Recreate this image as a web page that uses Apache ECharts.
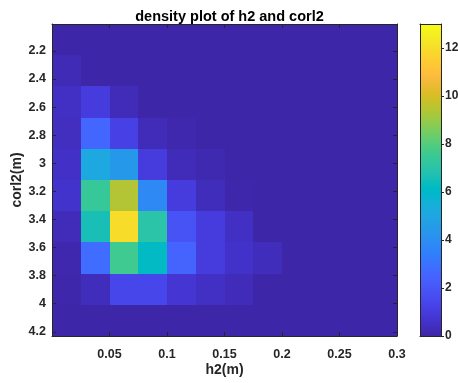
<!DOCTYPE html>
<html>
<head>
<meta charset="utf-8">
<script src="https://cdn.jsdelivr.net/npm/echarts@6/dist/echarts.min.js"></script>
<style>
  html, body { margin: 0; padding: 0; background: #fff; }
  #chart { width: 458px; height: 383px; }
</style>
</head>
<body>
<div id="chart"></div>
<script>
// Bin edges of the 2-D density grid
const h2Edges = [0, 0.025, 0.05, 0.075, 0.1, 0.125, 0.15, 0.175, 0.2, 0.225, 0.25, 0.275, 0.3];
const corl2Edges = [2.008, 2.230, 2.452, 2.675, 2.897, 3.119, 3.341, 3.564, 3.786, 4.008, 4.230];

// Density per cell: one row per corl2 bin (top to bottom), one column per h2 bin
const densityRow0 = [0,    0,    0,    0,    0,    0,    0,    0,    0, 0, 0, 0];
const densityRow1 = [0.25, 0,    0,    0,    0,    0,    0,    0,    0, 0, 0, 0];
const densityRow2 = [0.5,  1.0,  0.3,  0,    0,    0,    0,    0,    0, 0, 0, 0];
const densityRow3 = [0.4,  2.6,  1.2,  0.3,  0.1,  0,    0,    0,    0, 0, 0, 0];
const densityRow4 = [0.55, 5.1,  4.4,  1.0,  0.3,  0.15, 0,    0,    0, 0, 0, 0];
const densityRow5 = [0.65, 7.4,  9.4,  3.8,  1.0,  0.35, 0.05, 0,    0, 0, 0, 0];
const densityRow6 = [0.3,  6.6, 12.0,  7.0,  1.9,  1.0,  0.5,  0,    0, 0, 0, 0];
const densityRow7 = [0.1,  2.8,  7.6,  6.2,  2.5,  1.0,  0.6,  0.35, 0, 0, 0, 0];
const densityRow8 = [0.05, 0.35, 1.4,  1.4,  0.8,  0.5,  0.3,  0,    0, 0, 0, 0];
const densityRow9 = [0,    0,    0,    0,    0,    0,    0,    0,    0, 0, 0, 0];
const densityRows = [densityRow0, densityRow1, densityRow2, densityRow3, densityRow4,
                     densityRow5, densityRow6, densityRow7, densityRow8, densityRow9];

// Tick labels
const h2Ticks = [0.05, 0.1, 0.15, 0.2, 0.25, 0.3];
const corl2Ticks = [2.2, 2.4, 2.6, 2.8, 3, 3.2, 3.4, 3.6, 3.8, 4, 4.2];
const colorLimits = [0, 13];
const colorbarTicks = [0, 2, 4, 6, 8, 10, 12];

// parula colour map
const parula = [
  [0.2422,0.1504,0.6603],[0.2504,0.1650,0.7076],[0.2578,0.1818,0.7511],[0.2647,0.1978,0.7952],
  [0.2706,0.2147,0.8364],[0.2751,0.2342,0.8710],[0.2783,0.2559,0.8991],[0.2803,0.2782,0.9221],
  [0.2813,0.3006,0.9414],[0.2810,0.3228,0.9579],[0.2795,0.3447,0.9717],[0.2760,0.3667,0.9829],
  [0.2699,0.3892,0.9906],[0.2602,0.4123,0.9952],[0.2440,0.4358,0.9988],[0.2206,0.4603,0.9973],
  [0.1963,0.4847,0.9892],[0.1834,0.5074,0.9798],[0.1786,0.5289,0.9682],[0.1764,0.5499,0.9520],
  [0.1687,0.5703,0.9359],[0.1540,0.5902,0.9218],[0.1460,0.6091,0.9079],[0.1380,0.6276,0.8973],
  [0.1248,0.6459,0.8883],[0.1113,0.6635,0.8763],[0.0952,0.6798,0.8598],[0.0689,0.6948,0.8394],
  [0.0297,0.7082,0.8163],[0.0036,0.7203,0.7917],[0.0067,0.7312,0.7660],[0.0433,0.7411,0.7394],
  [0.0964,0.7500,0.7120],[0.1408,0.7584,0.6842],[0.1717,0.7670,0.6554],[0.1938,0.7758,0.6251],
  [0.2161,0.7843,0.5923],[0.2470,0.7918,0.5567],[0.2906,0.7973,0.5188],[0.3406,0.8008,0.4789],
  [0.3909,0.8029,0.4354],[0.4456,0.8024,0.3909],[0.5044,0.7993,0.3480],[0.5616,0.7942,0.3045],
  [0.6174,0.7876,0.2612],[0.6720,0.7793,0.2227],[0.7242,0.7698,0.1910],[0.7738,0.7598,0.1646],
  [0.8203,0.7498,0.1535],[0.8634,0.7406,0.1596],[0.9035,0.7330,0.1774],[0.9393,0.7288,0.2100],
  [0.9728,0.7298,0.2394],[0.9956,0.7434,0.2371],[0.9970,0.7659,0.2199],[0.9952,0.7893,0.2028],
  [0.9892,0.8136,0.1885],[0.9786,0.8386,0.1766],[0.9676,0.8639,0.1643],[0.9610,0.8890,0.1537],
  [0.9597,0.9135,0.1423],[0.9628,0.9373,0.1265],[0.9691,0.9606,0.1064],[0.9769,0.9839,0.0805]
];
const toHex = c => '#' + c.map(v => Math.round(v * 255).toString(16).padStart(2, '0')).join('');
const parulaHex = parula.map(toHex);

// One item per cell: [h2 low, h2 high, corl2 low, corl2 high, density]
const cells = [];
densityRows.forEach((row, r) => {
  row.forEach((v, c) => {
    cells.push([h2Edges[c], h2Edges[c + 1], corl2Edges[r], corl2Edges[r + 1], v]);
  });
});

const ink = '#262626';
const font = "'Liberation Sans', Arial, Helvetica, sans-serif";
const label = { color: ink, fontFamily: font, fontWeight: 'bold', fontSize: 12.5 };
const line = { show: true, onZero: false, lineStyle: { color: ink, width: 1 } };
const inTick = ticks => ({ show: true, inside: true, length: 4, customValues: ticks, lineStyle: { color: ink, width: 1 } });
const noTick = { show: false };

// Cells snapped to whole pixels so neighbours meet without seams
function cellRect(params, api) {
  const a = api.coord([api.value(0), api.value(2)]);
  const b = api.coord([api.value(1), api.value(3)]);
  const x0 = Math.round(Math.min(a[0], b[0])), x1 = Math.round(Math.max(a[0], b[0]));
  const y0 = Math.round(Math.min(a[1], b[1])), y1 = Math.round(Math.max(a[1], b[1]));
  return {
    type: 'rect',
    shape: { x: x0, y: y0, width: x1 - x0, height: y1 - y0 },
    style: { fill: api.visual('color') }
  };
}

function colorbarRect(params, api) {
  const a = api.coord([0, colorLimits[0]]);
  const b = api.coord([1, colorLimits[1]]);
  const stops = parulaHex.map((c, i) => ({ offset: i / (parulaHex.length - 1), color: c }));
  return {
    type: 'rect',
    shape: { x: a[0], y: b[1], width: b[0] - a[0], height: a[1] - b[1] },
    style: { fill: { type: 'linear', x: 0, y: 1, x2: 0, y2: 0, colorStops: stops } }
  };
}

const chart = echarts.init(document.getElementById('chart'), null, { renderer: 'canvas' });
chart.setOption({
  backgroundColor: '#ffffff',
  animation: false,
  title: {
    text: 'density plot of h2 and corl2',
    left: 224.5, textAlign: 'center', top: 4,
    textStyle: { color: '#000', fontFamily: font, fontWeight: 'bold', fontSize: 14.5 }
  },
  grid: [
    { left: 52, top: 24, width: 345, height: 312, show: false, containLabel: false, outerBoundsMode: 'none' },
    { left: 420, top: 24, width: 21, height: 312, show: false, containLabel: false, outerBoundsMode: 'none' }
  ],
  visualMap: {
    type: 'continuous', show: false, seriesIndex: 0, dimension: 4,
    min: colorLimits[0], max: colorLimits[1],
    inRange: { color: parulaHex }
  },
  xAxis: [
    {
      type: 'value', gridIndex: 0, min: h2Edges[0], max: h2Edges[h2Edges.length - 1],
      position: 'bottom', z: 10,
      name: 'h2(m)', nameLocation: 'middle', nameGap: 27, nameMoveOverlap: false,
      nameTextStyle: { color: ink, fontFamily: font, fontWeight: 'bold', fontSize: 14 },
      axisLine: line, splitLine: { show: false },
      axisTick: inTick(h2Ticks),
      axisLabel: Object.assign({ show: true, customValues: h2Ticks, margin: 12, formatter: v => String(v) }, label)
    },
    {
      type: 'value', gridIndex: 0, min: h2Edges[0], max: h2Edges[h2Edges.length - 1],
      position: 'top', z: 10,
      axisLine: line, splitLine: { show: false },
      axisTick: inTick(h2Ticks),
      axisLabel: { show: false }
    },
    {
      type: 'value', gridIndex: 1, min: 0, max: 1, position: 'bottom', z: 10,
      axisLine: line, axisTick: noTick, axisLabel: { show: false }, splitLine: { show: false }
    },
    {
      type: 'value', gridIndex: 1, min: 0, max: 1, position: 'top', z: 10,
      axisLine: line, axisTick: noTick, axisLabel: { show: false }, splitLine: { show: false }
    }
  ],
  yAxis: [
    {
      type: 'value', gridIndex: 0, inverse: true, z: 10,
      min: corl2Edges[0], max: corl2Edges[corl2Edges.length - 1], position: 'left',
      name: 'corl2(m)', nameLocation: 'middle', nameGap: 28, nameRotate: 90, nameMoveOverlap: false,
      nameTextStyle: { color: ink, fontFamily: font, fontWeight: 'bold', fontSize: 14 },
      axisLine: line, splitLine: { show: false },
      axisTick: inTick(corl2Ticks),
      axisLabel: Object.assign({ show: true, customValues: corl2Ticks, margin: 6, formatter: v => String(v) }, label)
    },
    {
      type: 'value', gridIndex: 0, inverse: true, z: 10,
      min: corl2Edges[0], max: corl2Edges[corl2Edges.length - 1], position: 'right',
      axisLine: line, splitLine: { show: false },
      axisTick: inTick(corl2Ticks),
      axisLabel: { show: false }
    },
    {
      type: 'value', gridIndex: 1, min: colorLimits[0], max: colorLimits[1], position: 'right', z: 10,
      axisLine: line, splitLine: { show: false },
      axisTick: { show: true, inside: false, length: 3, customValues: colorbarTicks, lineStyle: { color: ink, width: 1 } },
      axisLabel: Object.assign({}, label, { show: true, customValues: colorbarTicks, margin: 4, fontSize: 12 })
    },
    {
      type: 'value', gridIndex: 1, min: colorLimits[0], max: colorLimits[1], position: 'left', z: 10,
      axisLine: line, splitLine: { show: false },
      axisTick: noTick, axisLabel: { show: false }
    }
  ],
  series: [
    {
      type: 'custom', name: 'density', xAxisIndex: 0, yAxisIndex: 0,
      renderItem: cellRect, data: cells, clip: true,
      encode: { x: [0, 1], y: [2, 3] }, z: 1
    },
    {
      type: 'custom', name: 'colorbar', xAxisIndex: 2, yAxisIndex: 2,
      renderItem: colorbarRect, data: [colorLimits], z: 1
    }
  ]
});
</script>
</body>
</html>
